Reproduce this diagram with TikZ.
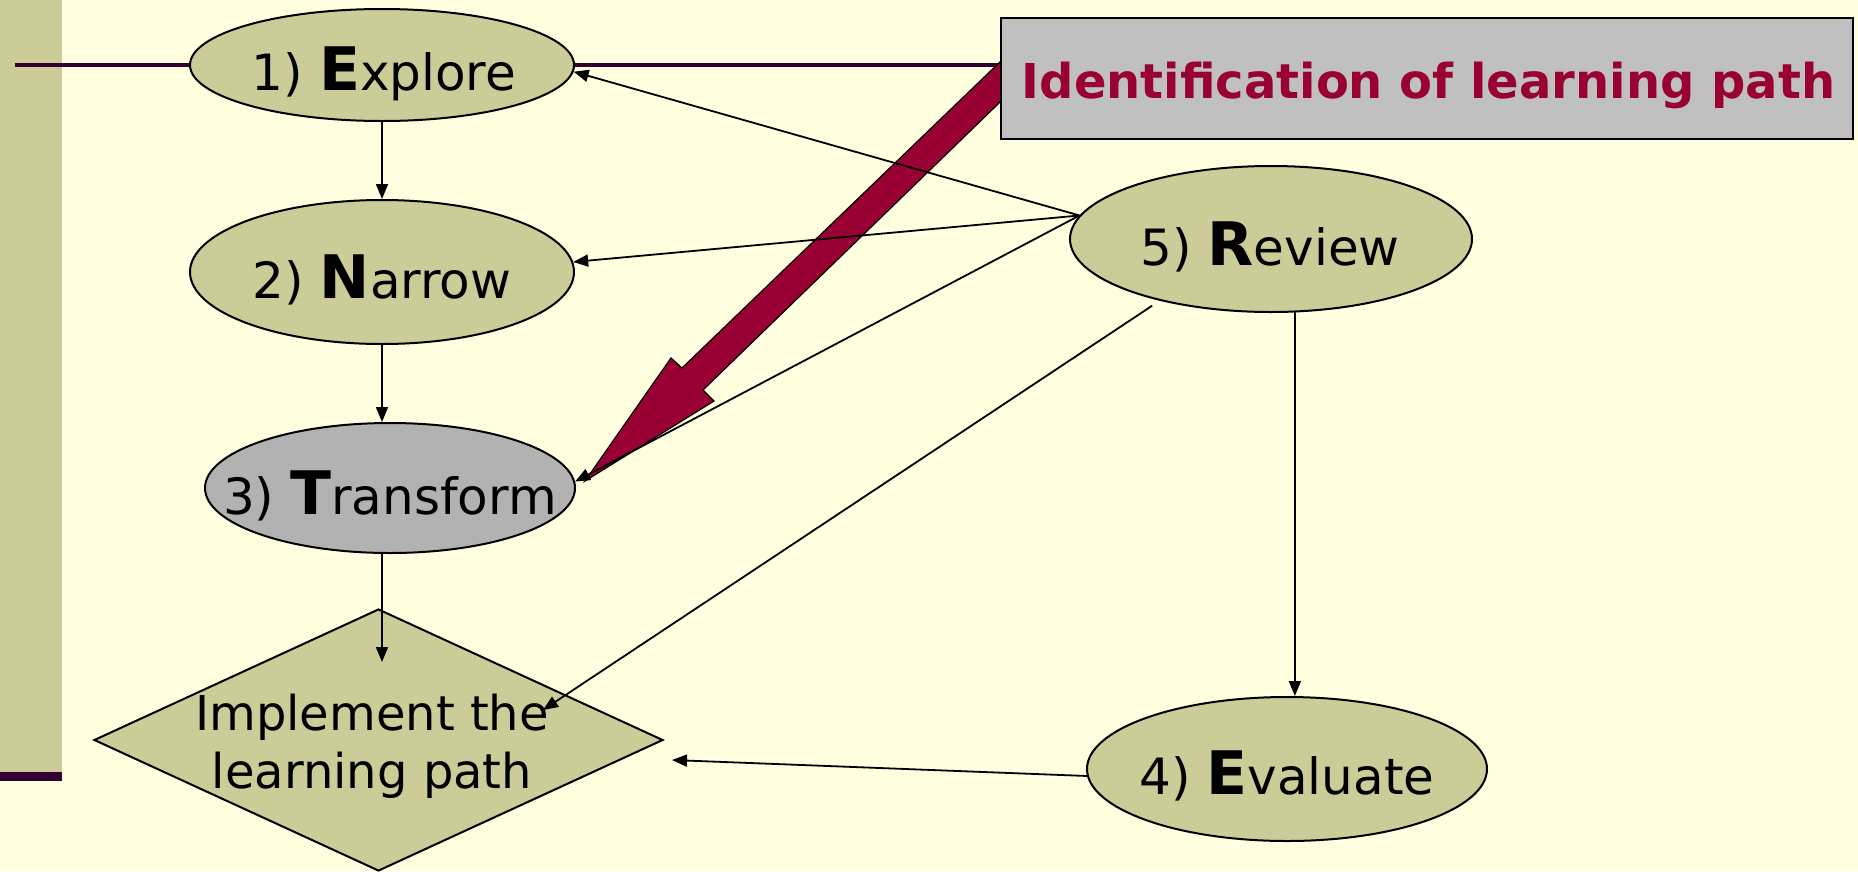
\documentclass[tikz,border=0pt]{standalone}
\usepackage{fontspec}
\setmainfont{DejaVu Sans}
\usetikzlibrary{shapes.geometric,arrows.meta}

\definecolor{paper}{HTML}{FFFFE0}
\definecolor{khaki}{HTML}{CCCC99}
\definecolor{stepgray}{HTML}{B2B2B2}
\definecolor{boxgray}{HTML}{C0C0C0}
\definecolor{crimson}{HTML}{990033}
\definecolor{plum}{HTML}{330033}

% bold, larger first letter of each phase name
\newcommand\phaseinitial[1]{{\fontsize{60}{60}\selectfont\bfseries #1}}

\pgfdeclarelayer{paperlayer}
\pgfdeclarelayer{under}
\pgfsetlayers{paperlayer,under,main}

\begin{document}
\begin{tikzpicture}[x=1pt,y=-1pt,
  phase/.style={ellipse, draw=black, line width=2pt, fill=khaki, inner sep=0pt},
  phaselabel/.style={anchor=base, inner sep=0pt, font=\fontsize{50}{58}\selectfont},
  link/.style={draw=black, line width=1.8pt, -{Triangle[length=15pt,width=12pt]}},
  rail/.style={draw=plum, line width=4.5pt},
]
\useasboundingbox (0,0) rectangle (1858,871);

% page background and side bar
\begin{pgfonlayer}{paperlayer}
  \fill[paper] (0,0) rectangle (1858,871);
  \fill[khaki] (0,0) rectangle (62,772);
  \fill[plum] (0,772) rectangle (62,781);
\end{pgfonlayer}

% phases
\node[phase, minimum width=384pt, minimum height=112pt] (explore) at (382,65) {};
\node[phase, minimum width=384pt, minimum height=144pt] (narrow) at (382,272) {};
\node[phase, fill=stepgray, minimum width=370pt, minimum height=130pt] (transform) at (390,488) {};
\node[phase, minimum width=402pt, minimum height=146pt] (review) at (1271,239) {};
\node[phase, minimum width=400pt, minimum height=144pt] (evaluate) at (1287,769) {};
\node[diamond, draw=black, line width=2pt, fill=khaki, inner sep=0pt,
      minimum width=569pt, minimum height=262pt] (implement) at (378.5,740) {};

% title box
\node[draw=black, line width=2.5pt, fill=boxgray, inner sep=0pt,
      minimum width=852pt, minimum height=121pt] (ident) at (1427,78.5) {};
\node[anchor=base, inner sep=0pt, text=crimson,
      font=\fontsize{48}{56}\selectfont\bfseries] (ident-text) at (1428.5,98)
      {Identification of learning path};

% horizontal rail and the big pointer from the title box
\coordinate (railStart) at (15,65);
\begin{pgfonlayer}{under}
  \draw[rail] (railStart) -- (explore.west);
  \draw[rail] (explore.east) -- (explore.east -| ident.west);
  \filldraw[fill=crimson, draw=black, line width=1.2pt, line join=miter]
    (1029,34) -- (682,368) -- (671,358) -- (585,481) -- (714,401) -- (703,390) -- (1029,74) -- cycle;
\end{pgfonlayer}

% connectors
\coordinate (implTop) at (382,662);
\coordinate (implNE) at (543,710);
\coordinate (implE) at (672,760);
\draw[link] (explore.south) -- (narrow.north);
\draw[link] (narrow.south) -- (narrow.south |- transform.north);
\draw[link] (transform.south -| narrow.south) -- (implTop);
\draw[link] (review.173) -- (explore.-2.5);
\draw[link] (review.173) -- (narrow.3);
\draw[link] (review.173) -- (transform.2);
\draw[link, shorten <=9pt] (review.209) -- (implNE);
\draw[link] (review.288.3) -- (review.288.3 |- evaluate.north);
\draw[link] (evaluate.182) -- (implE);

% phase names
\node[phaselabel] (explore-text) at (384,90) {1) \phaseinitial{E}xplore};
\node[phaselabel] (narrow-text) at (382,298) {2) \phaseinitial{N}arrow};
\node[phaselabel] (transform-text) at (390,514) {3) \phaseinitial{T}ransform};
\node[phaselabel] (review-text) at (1270,265) {5) \phaseinitial{R}eview};
\node[phaselabel] (evaluate-text) at (1287,794) {4) \phaseinitial{E}valuate};
\node[inner sep=0pt, align=center, font=\fontsize{48}{58}\selectfont]
  (implement-text) at (372,746) {Implement the\\learning path};
\end{tikzpicture}
\end{document}
